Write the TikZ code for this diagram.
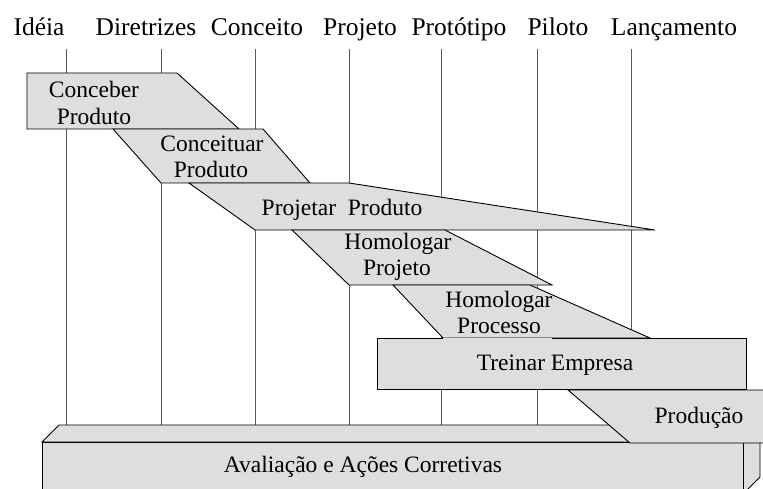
\documentclass[tikz,border=0pt]{standalone}
\usepackage{fontspec}
\setmainfont{Liberation Serif}
\definecolor{boxgray}{HTML}{DEDEDE}
\definecolor{gridgray}{HTML}{5A5A5A}
\tikzset{
  phase/.style={draw=black, line width=0.9pt, fill=boxgray, line join=miter},
  grid/.style={draw=gridgray, line width=0.9pt},
  head/.style={anchor=base, inner sep=0pt, font=\fontsize{25.5}{28}\selectfont},
  lab/.style={anchor=base, inner sep=0pt, font=\fontsize{23.5}{26}\selectfont},
}
\begin{document}
\begin{tikzpicture}[x=1pt,y=-1pt]
\useasboundingbox (0,0) rectangle (763,489);
% headers
\node[head] (h1) at (39,36) {Idéia};
\node[head] (h2) at (146,36) {Diretrizes};
\node[head] (h3) at (257,36) {Conceito};
\node[head] (h4) at (360,36) {Projeto};
\node[head] (h5) at (459,36) {Protótipo};
\node[head] (h6) at (558,36) {Piloto};
\node[head] (h7) at (674,36) {Lançamento};
% vertical grid lines
\foreach \x in {66,161,255,349,441,537,631}
  \draw[grid] (\x,49) -- (\x,425);
% Avaliacao 3D bar
\draw[phase] (42,442) -- (59,425) -- (760,425) -- (743,442) -- cycle;
\draw[phase] (743,442) -- (760,425) -- (760,477) -- (743,494) -- cycle;
\draw[phase] (42,442) rectangle (743,494);
\node[lab] (aval) at (363,472) {Avaliação e Ações Corretivas};
% Conceber Produto
\draw[phase] (27,73) -- (177,73) -- (239,129) -- (27,129) -- cycle;
\node[lab] (c1a) at (94,98) {Conceber};
\node[lab] (c1b) at (94,124.5) {Produto};
% Conceituar Produto
\draw[phase] (113,129) -- (263,129) -- (310,183) -- (161,183) -- cycle;
\node[lab] (c2a) at (212,152) {Conceituar};
\node[lab] (c2b) at (211,178) {Produto};
% Projetar Produto
\draw[phase] (189,183) -- (349,183) -- (655,230) -- (255,230) -- cycle;
\node[lab] (c3) at (342,215) {Projetar\ \ Produto};
% Homologar Projeto
\draw[phase] (292,230) -- (445,230) -- (552,285) -- (349,285) -- cycle;
\node[lab] (c4a) at (398,250) {Homologar};
\node[lab] (c4b) at (397,276) {Projeto};
% Homologar Processo
\draw[phase] (393,285) -- (530,285) -- (650,338) -- (443,338) -- cycle;
% Treinar Empresa
\fill[boxgray] (377,338) rectangle (746,389);
\draw[line width=0.9pt] (443,338) -- (377,338) -- (377,389) -- (746,389) -- (746,338) -- (552,338);
\node[lab] (c4c) at (499,307) {Homologar};
\node[lab] (c4d) at (499,333) {Processo};
\node[lab] (c5) at (555,370) {Treinar Empresa};
% Producao
\draw[phase] (568,390) -- (764,390) -- (764,443) -- (630,443) -- cycle;
\node[lab] (c6) at (699,423) {Produção};
\end{tikzpicture}
\end{document}
